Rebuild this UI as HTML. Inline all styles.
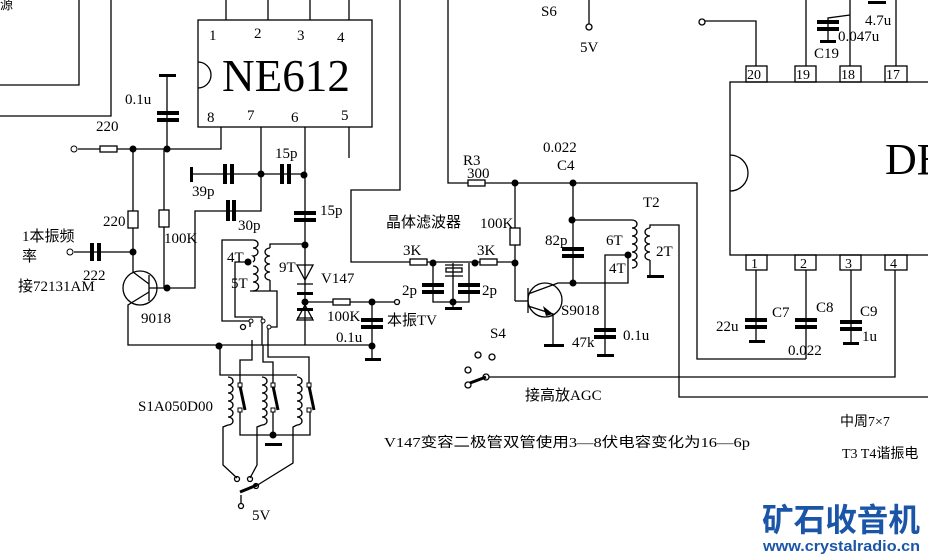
<!DOCTYPE html>
<html><head><meta charset="utf-8"><style>
html,body{margin:0;padding:0;background:#fff;}
svg{display:block}
text{font-family:"Liberation Serif","Noto Serif CJK SC",serif;font-size:15px;fill:#000}
.c{font-family:"Liberation Serif","Noto Sans CJK SC",sans-serif;}
</style></head><body>
<svg width="928" height="559" viewBox="0 0 928 559" xmlns="http://www.w3.org/2000/svg">
<g stroke="#000" stroke-width="1.3" fill="none">
<polyline points="79,0 79,85 0,85"/>
<polyline points="111,0 111,116 0,116"/>
<rect x="198" y="20" width="174" height="107"/>
<path d="M198,62 A13,13 0 0 1 198,88"/>
<line x1="226" y1="0" x2="226" y2="20"/><line x1="268" y1="0" x2="268" y2="20"/>
<line x1="310" y1="0" x2="310" y2="20"/><line x1="349" y1="0" x2="349" y2="20"/>
<polyline points="221,127 221,149 78,149"/>
<rect x="100" y="146" width="17" height="6" fill="#fff"/>
<line x1="167" y1="75" x2="167" y2="149"/>
<line x1="133" y1="149" x2="133" y2="272"/>
<rect x="128" y="211" width="10" height="17" fill="#fff"/>
<line x1="164" y1="149" x2="164" y2="288"/>
<rect x="159" y="210" width="10" height="17" fill="#fff"/>
<polyline points="149,288 195,288 195,211 261,211 261,127"/>
<line x1="191" y1="174" x2="304" y2="174"/>
<line x1="305" y1="127" x2="305" y2="345"/>
<line x1="349" y1="127" x2="349" y2="158"/>
<line x1="74" y1="252" x2="133" y2="252"/>
<circle cx="140" cy="288" r="17"/>
<line x1="149" y1="275" x2="149" y2="301"/>
<polyline points="149,284 133,272"/>
<polyline points="149,292 128,305 128,345 372,345"/>
<polyline points="253,240 222,240 222,321 250,321 250,327"/>
<polyline points="248,262 235,262 235,317 262,317 262,345"/>
<polyline points="250,291 277,291 277,327 268,327 268,345"/>
<path d="M253,240 a5,4 0 0 1 0,8 a5,4 0 0 1 0,8 a5,4 0 0 1 0,6 M253,266 a5,4 0 0 1 0,8 a5,4 0 0 1 0,8 a5,4 0 0 1 0,9"/>
<path d="M270,248 a5,4 0 0 0 0,8 a5,4 0 0 0 0,8 a5,4 0 0 0 0,8 a5,4 0 0 0 0,8 M270,248 L270,244 L305,244 M270,280 L270,291"/>
<circle cx="243" cy="327" r="2.5"/>
<path d="M297,265 L313,265 L305,280 Z M297,284 L313,284"/>
<path d="M297,320 L313,320 L305,305 Z M297,318 L313,318"/>
<line x1="305" y1="302" x2="397" y2="302"/>
<rect x="333" y="299" width="17" height="6" fill="#fff"/>
<circle cx="397" cy="302" r="2.5" fill="#fff"/>
<line x1="372" y1="302" x2="372" y2="359"/>
<polyline points="220,345 220,375 297,375"/>
<polyline points="252,340 252,360 240,360 240,385"/>
<polyline points="263,345 263,362 273,362 273,385"/>
<polyline points="268,345 268,357 309,357 309,385"/>
<path d="M228,377 a5,4 0 0 1 0,8 a5,4 0 0 1 0,8 a5,4 0 0 1 0,8 a5,4 0 0 1 0,8 a5,4 0 0 1 0,8 a5,4 0 0 1 0,8"/>
<path d="M262,377 a5,4 0 0 1 0,8 a5,4 0 0 1 0,8 a5,4 0 0 1 0,8 a5,4 0 0 1 0,8 a5,4 0 0 1 0,8 a5,4 0 0 1 0,8"/>
<path d="M297,377 a5,4 0 0 1 0,8 a5,4 0 0 1 0,8 a5,4 0 0 1 0,8 a5,4 0 0 1 0,8 a5,4 0 0 1 0,8 a5,4 0 0 1 0,8"/>
<polyline points="240,410 240,435 310,435 310,410"/><line x1="273" y1="410" x2="273" y2="435"/>
<polyline points="228,425 223,427 223,465 237,478"/>
<polyline points="262,425 257,427 257,465 250,478"/>
<polyline points="297,425 293,427 293,463 256,486"/>
<line x1="241" y1="495" x2="241" y2="503"/>
<circle cx="237" cy="479" r="2.5"/><circle cx="250" cy="479" r="2.5"/><circle cx="256" cy="486" r="2.5"/><circle cx="241" cy="506" r="2.5"/>
<polyline points="448,0 448,183 697,183 697,359 806,359"/>
<rect x="468" y="180" width="17" height="6" fill="#fff"/>
<polyline points="400,0 400,190 351,190 351,262 515,262"/>
<rect x="410" y="259" width="17" height="6" fill="#fff"/>
<rect x="480" y="259" width="17" height="6" fill="#fff"/>
<line x1="515" y1="183" x2="515" y2="301"/>
<rect x="510" y="228" width="10" height="17" fill="#fff"/>
<polyline points="433,263 433,302 469,302 469,263"/>
<rect x="446" y="268" width="16" height="4"/><line x1="445" y1="265" x2="463" y2="265"/><line x1="445" y1="276" x2="463" y2="276"/>
<line x1="453" y1="263" x2="453" y2="307"/>
<circle cx="545" cy="300" r="17"/>
<line x1="528" y1="288" x2="528" y2="313"/>
<line x1="515" y1="301" x2="528" y2="301"/>
<polyline points="528,294 558,283 628,283 628,255"/>
<polyline points="528,306 553,314 553,345"/>
<line x1="573" y1="183" x2="573" y2="283"/>
<polyline points="572,220 632,220"/>
<path d="M632,220 a5,4 0 0 1 0,8 a5,4 0 0 1 0,8 a5,4 0 0 1 0,8 a5,4 0 0 1 0,8 a5,4 0 0 1 0,8 a5,4 0 0 1 0,8"/>
<path d="M650,228 a5,4 0 0 0 0,8 a5,4 0 0 0 0,8 a5,4 0 0 0 0,8 a5,4 0 0 0 0,8 M650,228 L650,225 L679,225 L679,397 L928,397 M650,260 L650,276"/>
<polyline points="628,255 605,255 605,356"/>
<circle cx="478" cy="355" r="3"/><circle cx="492" cy="357" r="3"/><circle cx="468" cy="370" r="3"/><circle cx="468" cy="385" r="3"/><circle cx="486" cy="377" r="3"/>
<polyline points="489,377 895,377 895,270"/>
<line x1="589" y1="0" x2="589" y2="24"/><circle cx="589" cy="27" r="3"/>
<rect x="730" y="82" width="210" height="173"/>
<path d="M730,155 A18,18 0 0 1 730,191"/>
<rect x="746" y="66" width="21" height="16"/><rect x="795" y="66" width="21" height="16"/><rect x="840" y="66" width="21" height="16"/><rect x="885" y="66" width="22" height="16"/>
<rect x="746" y="255" width="21" height="15"/><rect x="795" y="255" width="21" height="15"/><rect x="840" y="255" width="21" height="15"/><rect x="885" y="255" width="22" height="15"/>
<polyline points="756,66 756,21 705,21"/><circle cx="702" cy="22" r="3"/>
<line x1="806" y1="0" x2="806" y2="66"/><line x1="850" y1="0" x2="850" y2="66"/><line x1="896" y1="0" x2="896" y2="66"/>
<polyline points="828,40 828,18 850,15"/>
<line x1="756" y1="270" x2="756" y2="341"/>
<line x1="806" y1="270" x2="806" y2="359"/>
<line x1="851" y1="270" x2="851" y2="343"/>
</g>
<g fill="#000" stroke="none">
<circle cx="133" cy="149" r="3.5"/><circle cx="167" cy="149" r="3.5"/><circle cx="261" cy="174" r="3.5"/><circle cx="304" cy="175" r="3.5"/>
<circle cx="133" cy="252" r="3.5"/><circle cx="167" cy="288" r="3.5"/><circle cx="305" cy="245" r="3.5"/><circle cx="248" cy="262" r="3.5"/>
<circle cx="305" cy="302" r="3.5"/><circle cx="372" cy="302" r="3.5"/><circle cx="372" cy="346" r="3.5"/><circle cx="219" cy="346" r="3.5"/>
<circle cx="273" cy="435" r="3.5"/><circle cx="433" cy="263" r="3.5"/><circle cx="475" cy="263" r="3.5"/><circle cx="453" cy="302" r="3.5"/>
<circle cx="515" cy="183" r="3.5"/><circle cx="573" cy="183" r="3.5"/><circle cx="515" cy="263" r="3.5"/><circle cx="572" cy="220" r="3.5"/>
<circle cx="573" cy="283" r="3.5"/><circle cx="628" cy="255" r="3.5"/>
<rect x="159" y="74" width="17" height="3"/>
<rect x="157" y="111" width="22" height="4"/><rect x="157" y="118" width="22" height="4"/>
<rect x="190" y="167" width="3" height="15"/>
<rect x="223" y="164" width="4" height="20"/><rect x="230" y="164" width="4" height="20"/>
<rect x="280" y="164" width="4" height="20"/><rect x="287" y="164" width="4" height="20"/>
<rect x="226" y="200" width="4" height="21"/><rect x="232" y="200" width="4" height="21"/>
<rect x="294" y="211" width="22" height="4"/><rect x="294" y="218" width="22" height="4"/>
<rect x="90" y="243" width="4" height="18"/><rect x="97" y="243" width="4" height="18"/>
<rect x="297" y="292" width="16" height="3"/><rect x="297" y="308" width="16" height="3"/>
<rect x="361" y="318" width="22" height="4"/><rect x="361" y="325" width="22" height="4"/>
<rect x="365" y="358" width="16" height="3"/>
<rect x="265" y="443" width="17" height="3"/>
<rect x="422" y="283" width="22" height="4"/><rect x="422" y="290" width="22" height="4"/>
<rect x="458" y="283" width="22" height="4"/><rect x="458" y="290" width="22" height="4"/>
<rect x="445" y="307" width="17" height="3"/>
<rect x="562" y="247" width="22" height="4"/><rect x="562" y="254" width="22" height="4"/>
<rect x="544" y="344" width="20" height="3"/>
<rect x="594" y="328" width="22" height="4"/><rect x="594" y="335" width="22" height="4"/>
<rect x="597" y="354" width="17" height="3"/>
<rect x="647" y="275" width="17" height="3"/>
<rect x="817" y="20" width="22" height="4"/><rect x="817" y="27" width="22" height="4"/><rect x="820" y="40" width="16" height="3"/>
<rect x="868" y="1" width="18" height="3"/>
<rect x="745" y="318" width="22" height="4"/><rect x="745" y="325" width="22" height="4"/><rect x="749" y="340" width="16" height="3"/>
<rect x="795" y="318" width="22" height="4"/><rect x="795" y="325" width="22" height="4"/>
<rect x="840" y="320" width="22" height="4"/><rect x="840" y="327" width="22" height="4"/><rect x="843" y="342" width="16" height="3"/>
<polygon points="553,314 543,306 546,316"/>
</g>
<g stroke="#000" stroke-width="3">
<line x1="240" y1="386" x2="245" y2="410"/><line x1="273" y1="386" x2="278" y2="410"/><line x1="309" y1="386" x2="314" y2="410"/>
<line x1="240" y1="492" x2="257" y2="485"/><line x1="470" y1="383" x2="486" y2="377"/>
</g>
<g fill="#fff" stroke="#000" stroke-width="1">
<rect x="238" y="383" width="4" height="4"/><rect x="238" y="408" width="4" height="4"/>
<rect x="271" y="383" width="4" height="4"/><rect x="271" y="408" width="4" height="4"/>
<rect x="307" y="383" width="4" height="4"/><rect x="307" y="408" width="4" height="4"/>
<circle cx="74" cy="149" r="3"/><circle cx="70" cy="252" r="3"/>
<circle cx="251" cy="321" r="2"/><circle cx="263" cy="321" r="2"/><circle cx="269" cy="327" r="2"/>
</g>
<text class="c" x="0" y="9" style="font-size:13px">源</text>
<text x="209" y="40">1</text><text x="254" y="38">2</text><text x="297" y="40">3</text><text x="337" y="42">4</text>
<text x="207" y="122">8</text><text x="247" y="120">7</text><text x="291" y="122">6</text><text x="341" y="120">5</text>
<text x="222" y="91" style="font-size:46px" textLength="128" lengthAdjust="spacingAndGlyphs">NE612</text>
<text x="96" y="131">220</text><text x="125" y="104">0.1u</text>
<text x="103" y="226">220</text><text x="164" y="243">100K</text>
<text x="192" y="196">39p</text><text x="238" y="230">30p</text>
<text x="275" y="158">15p</text><text x="320" y="215">15p</text>
<text class="c" x="22" y="241">1本振频</text><text class="c" x="22" y="261">率</text>
<text x="83" y="280">222</text><text class="c" x="18" y="291">接72131AM</text>
<text x="141" y="323">9018</text>
<text x="227" y="262">4T</text><text x="231" y="288">5T</text><text x="279" y="272">9T</text>
<text x="321" y="283">V147</text><text x="327" y="321">100K</text>
<text class="c" x="387" y="325">本振TV</text><text x="336" y="342">0.1u</text>
<text x="138" y="411">S1A050D00</text><text x="252" y="520">5V</text>
<text x="541" y="16">S6</text><text x="580" y="52">5V</text>
<text x="463" y="165">R3</text><text x="467" y="178">300</text>
<text x="543" y="152">0.022</text><text x="557" y="170">C4</text>
<text class="c" x="386" y="227">晶体滤波器</text>
<text x="480" y="228">100K</text><text x="403" y="255">3K</text><text x="477" y="255">3K</text>
<text x="402" y="295">2p</text><text x="482" y="295">2p</text>
<text x="545" y="245">82p</text><text x="643" y="207">T2</text>
<text x="606" y="245">6T</text><text x="609" y="273">4T</text><text x="656" y="256">2T</text>
<text x="561" y="315">S9018</text><text x="572" y="347">47k</text><text x="623" y="340">0.1u</text>
<text x="490" y="338">S4</text><text class="c" x="525" y="400">接高放AGC</text>
<text x="747" y="79" style="font-size:14px">20</text><text x="796" y="79" style="font-size:14px">19</text><text x="841" y="79" style="font-size:14px">18</text><text x="886" y="79" style="font-size:14px">17</text>
<text x="751" y="268" style="font-size:14px">1</text><text x="800" y="268" style="font-size:14px">2</text><text x="845" y="268" style="font-size:14px">3</text><text x="890" y="268" style="font-size:14px">4</text>
<text x="885" y="174" style="font-size:44px">DB</text>
<text x="865" y="25">4.7u</text><text x="838" y="41">0.047u</text><text x="814" y="58">C19</text>
<text x="716" y="331">22u</text><text x="772" y="317">C7</text>
<text x="816" y="312">C8</text><text x="788" y="355">0.022</text>
<text x="860" y="316">C9</text><text x="862" y="341">1u</text>
<text class="c" x="384" y="447" style="font-size:14px" textLength="366" lengthAdjust="spacingAndGlyphs">V147变容二极管双管使用3—8伏电容变化为16—6p</text>
<text class="c" x="840" y="426" style="font-size:14px">中周7×7</text>
<text class="c" x="842" y="458" style="font-size:14px">T3 T4谐振电</text>
<text x="762" y="531" style="font-family:'Noto Sans CJK SC',sans-serif;font-size:32px;font-weight:bold;fill:#1a55a8" textLength="158" lengthAdjust="spacingAndGlyphs">矿石收音机</text>
<text x="763" y="551" style="font-family:'Liberation Sans',sans-serif;font-size:15px;font-weight:bold;fill:#1a55a8" textLength="157" lengthAdjust="spacingAndGlyphs">www.crystalradio.cn</text>
</svg>
</body></html>
